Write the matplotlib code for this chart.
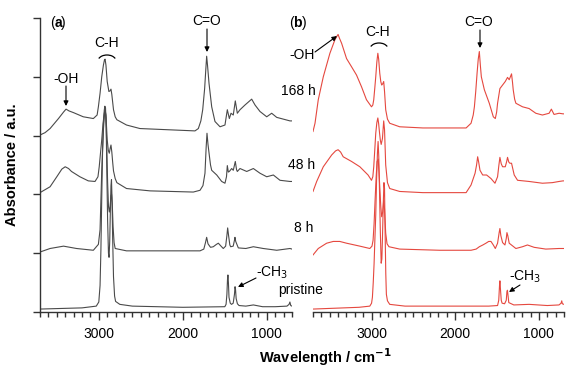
import matplotlib
matplotlib.use("Agg")
import matplotlib.pyplot as plt
from matplotlib.patches import Arc
from matplotlib.ticker import MultipleLocator
import numpy as np

plt.rcParams['font.family'] = ['Liberation Sans', 'DejaVu Sans']

# ---------------- data (wavenumber cm^-1, absorbance a.u. relative to own baseline) -------------
sample_labels = ["pristine", "8 h", "48 h", "168 h"]
offsets = [0.05, 1, 2, 3]

# panel (a)
a_pristine_wn = [3700, 3200, 3030, 3000, 2985, 2975, 2965, 2955, 2945, 2935, 2928, 2920, 2912, 2905, 2895, 2885, 2878, 2870, 2862, 2855, 2849, 2843, 2835, 2825, 2812, 2800, 2750, 2600, 2000, 1500, 1485, 1475, 1468, 1463, 1457, 1450, 1435, 1420, 1400, 1385, 1378, 1372, 1365, 1350, 1330, 1250, 1160, 1050, 900, 760, 735, 725, 715, 700]
a_pristine_ab = [0.0, 0.02, 0.05, 0.12, 0.4, 1.0, 1.9, 2.7, 3.15, 3.38, 3.45, 3.42, 3.1, 2.4, 1.5, 0.95, 0.88, 1.15, 1.7, 2.1, 2.2, 1.9, 1.2, 0.55, 0.22, 0.13, 0.08, 0.05, 0.03, 0.04, 0.08, 0.25, 0.5, 0.58, 0.45, 0.2, 0.1, 0.08, 0.1, 0.25, 0.38, 0.33, 0.18, 0.09, 0.06, 0.05, 0.07, 0.04, 0.04, 0.05, 0.08, 0.12, 0.06, 0.05]

a_8h_wn = [3700, 3580, 3420, 3265, 3065, 3005, 2985, 2975, 2965, 2955, 2945, 2935, 2925, 2915, 2905, 2895, 2885, 2875, 2865, 2855, 2848, 2840, 2830, 2818, 2805, 2670, 1795, 1750, 1730, 1716, 1700, 1670, 1637, 1600, 1577, 1545, 1518, 1490, 1475, 1466, 1455, 1440, 1430, 1400, 1385, 1379, 1370, 1339, 1250, 1160, 1042, 882, 724, 700]
a_8h_ab = [0.02, 0.08, 0.12, 0.08, 0.05, 0.15, 0.4, 0.9, 1.4, 1.76, 2.1, 2.32, 2.45, 2.3, 1.8, 1.2, 0.8, 0.7, 0.8, 0.98, 1.0, 0.85, 0.45, 0.18, 0.08, 0.04, 0.04, 0.07, 0.18, 0.27, 0.16, 0.1, 0.11, 0.15, 0.17, 0.12, 0.08, 0.12, 0.3, 0.43, 0.3, 0.14, 0.11, 0.12, 0.22, 0.27, 0.2, 0.09, 0.08, 0.11, 0.08, 0.05, 0.08, 0.07]

a_48h_wn = [3700, 3580, 3500, 3440, 3400, 3360, 3325, 3225, 3125, 3045, 3010, 2995, 2980, 2965, 2950, 2935, 2925, 2915, 2900, 2887, 2875, 2865, 2855, 2845, 2835, 2825, 2805, 2785, 2670, 2390, 1875, 1795, 1760, 1736, 1722, 1712, 1700, 1684, 1670, 1656, 1596, 1537, 1498, 1480, 1470, 1458, 1446, 1418, 1399, 1375, 1360, 1351, 1319, 1239, 1160, 1081, 1001, 922, 843, 724, 700]
a_48h_ab = [0.03, 0.13, 0.30, 0.43, 0.47, 0.44, 0.39, 0.30, 0.23, 0.22, 0.3, 0.47, 0.7, 0.93, 1.2, 1.38, 1.44, 1.35, 0.93, 0.75, 0.7, 0.78, 0.84, 0.72, 0.55, 0.4, 0.27, 0.2, 0.1, 0.06, 0.04, 0.07, 0.15, 0.36, 0.8, 1.04, 0.85, 0.66, 0.5, 0.41, 0.33, 0.22, 0.19, 0.3, 0.49, 0.38, 0.39, 0.44, 0.41, 0.56, 0.42, 0.39, 0.44, 0.39, 0.44, 0.36, 0.30, 0.33, 0.24, 0.22, 0.22]

a_168h_wn = [3700, 3640, 3580, 3480, 3420, 3390, 3355, 3300, 3185, 3065, 3020, 3005, 2985, 2965, 2945, 2932, 2925, 2915, 2900, 2880, 2867, 2855, 2845, 2825, 2805, 2785, 2670, 2510, 1855, 1815, 1785, 1763, 1740, 1725, 1716, 1706, 1688, 1656, 1617, 1557, 1498, 1470, 1446, 1426, 1399, 1375, 1351, 1319, 1260, 1180, 1140, 1081, 1001, 942, 882, 803, 724, 700]
a_168h_ab = [0.01, 0.05, 0.12, 0.29, 0.4, 0.45, 0.42, 0.39, 0.32, 0.29, 0.35, 0.49, 0.72, 1.00, 1.2, 1.29, 1.30, 1.2, 0.92, 0.75, 0.76, 0.79, 0.7, 0.44, 0.32, 0.27, 0.18, 0.12, 0.08, 0.12, 0.25, 0.44, 0.8, 1.15, 1.35, 1.2, 0.89, 0.49, 0.24, 0.15, 0.18, 0.44, 0.29, 0.38, 0.35, 0.59, 0.38, 0.44, 0.52, 0.62, 0.52, 0.41, 0.32, 0.38, 0.31, 0.28, 0.25, 0.25]

# panel (b)
b_pristine_wn = [3700, 3150, 3021, 3000, 2990, 2980, 2970, 2960, 2950, 2940, 2930, 2922, 2914, 2905, 2895, 2885, 2877, 2870, 2860, 2852, 2845, 2838, 2830, 2823, 2810, 2783, 2600, 1600, 1494, 1480, 1470, 1466, 1460, 1450, 1440, 1410, 1390, 1382, 1376, 1368, 1360, 1300, 1117, 900, 760, 735, 727, 720, 700]
b_pristine_ab = [0.0, 0.03, 0.05, 0.1, 0.20, 0.45, 0.77, 1.2, 1.6, 2.2, 2.65, 2.85, 2.6, 2.0, 1.3, 0.78, 0.85, 1.2, 1.8, 2.15, 2.05, 1.3, 0.6, 0.25, 0.14, 0.08, 0.05, 0.05, 0.06, 0.15, 0.42, 0.48, 0.35, 0.15, 0.1, 0.09, 0.15, 0.3, 0.32, 0.22, 0.11, 0.07, 0.08, 0.06, 0.07, 0.1, 0.14, 0.09, 0.08]

b_8h_wn = [3700, 3637, 3537, 3458, 3380, 3299, 3140, 3021, 2995, 2982, 2970, 2958, 2945, 2934, 2920, 2910, 2902, 2890, 2879, 2867, 2855, 2845, 2831, 2815, 2792, 2664, 2188, 1811, 1750, 1712, 1670, 1633, 1600, 1573, 1545, 1521, 1494, 1475, 1466, 1455, 1434, 1406, 1390, 1382, 1372, 1355, 1275, 1196, 1137, 1057, 918, 759, 712, 700]
b_8h_ab = [-0.03, 0.08, 0.17, 0.20, 0.20, 0.17, 0.12, 0.08, 0.12, 0.22, 0.5, 0.90, 1.3, 1.56, 1.60, 1.35, 1.13, 0.8, 0.62, 0.7, 0.90, 0.75, 0.34, 0.16, 0.11, 0.07, 0.05, 0.05, 0.07, 0.11, 0.14, 0.17, 0.2, 0.20, 0.14, 0.08, 0.17, 0.35, 0.42, 0.3, 0.18, 0.14, 0.25, 0.35, 0.3, 0.17, 0.08, 0.11, 0.14, 0.10, 0.07, 0.08, 0.08, 0.08]

b_48h_wn = [3700, 3656, 3577, 3477, 3430, 3400, 3370, 3339, 3239, 3140, 3042, 3001, 2985, 2974, 2962, 2950, 2937, 2925, 2915, 2905, 2895, 2885, 2870, 2855, 2845, 2831, 2810, 2783, 2664, 2387, 1870, 1811, 1763, 1745, 1732, 1720, 1704, 1672, 1625, 1573, 1525, 1494, 1478, 1466, 1450, 1434, 1402, 1385, 1375, 1360, 1347, 1327, 1295, 1255, 1117, 958, 839, 759, 712, 700]
b_48h_ab = [0.05, 0.22, 0.47, 0.67, 0.74, 0.76, 0.72, 0.64, 0.56, 0.47, 0.33, 0.24, 0.3, 0.47, 0.75, 1.04, 1.22, 1.30, 1.2, 1.05, 0.92, 0.85, 0.95, 1.25, 1.1, 0.5, 0.2, 0.10, 0.05, 0.03, 0.03, 0.16, 0.36, 0.5, 0.64, 0.55, 0.41, 0.33, 0.33, 0.27, 0.19, 0.30, 0.5, 0.63, 0.52, 0.47, 0.47, 0.56, 0.63, 0.55, 0.53, 0.53, 0.33, 0.24, 0.22, 0.19, 0.20, 0.22, 0.23, 0.23]

b_168h_wn = [3700, 3676, 3637, 3577, 3498, 3438, 3410, 3400, 3385, 3358, 3299, 3239, 3180, 3120, 3061, 3001, 2985, 2974, 2962, 2950, 2937, 2925, 2915, 2902, 2890, 2879, 2867, 2855, 2845, 2831, 2810, 2783, 2664, 2387, 1870, 1811, 1785, 1771, 1755, 1739, 1725, 1712, 1700, 1688, 1652, 1593, 1545, 1521, 1505, 1494, 1466, 1434, 1402, 1375, 1355, 1327, 1315, 1307, 1290, 1275, 1196, 1117, 1037, 958, 878, 851, 819, 759, 712, 700]
b_168h_ab = [0.07, 0.21, 0.61, 1.00, 1.40, 1.63, 1.70, 1.72, 1.66, 1.57, 1.31, 1.17, 1.03, 0.83, 0.61, 0.49, 0.52, 0.61, 0.8, 1.00, 1.25, 1.40, 1.3, 1.06, 0.92, 0.86, 0.88, 0.92, 0.75, 0.44, 0.28, 0.21, 0.15, 0.13, 0.13, 0.21, 0.35, 0.49, 0.75, 1.06, 1.3, 1.43, 1.2, 1.00, 0.78, 0.55, 0.32, 0.29, 0.4, 0.55, 0.80, 0.86, 0.92, 0.99, 0.95, 1.05, 0.9, 0.78, 0.62, 0.55, 0.49, 0.46, 0.38, 0.35, 0.38, 0.45, 0.36, 0.38, 0.37, 0.37]

x_ticks = [3000, 2000, 1000]
x_tick_labels = ["3000", "2000", "1000"]

# ---------------- figure ----------------
W, H = 573, 368
fig = plt.figure(figsize=(W / 100, H / 100), dpi=100)

def fx(px):
    return px / W

def fy(py):
    return 1 - py / H

ax_a = fig.add_axes([fx(40), fy(312), fx(292) - fx(40), fy(18) - fy(312)])
ax_b = fig.add_axes([fx(313), fy(312), fx(564) - fx(313), fy(18) - fy(312)])

gray = "#4a4a4a"
red = "#e5483f"
axcol = "#333333"

series_a = [(a_pristine_wn, a_pristine_ab), (a_8h_wn, a_8h_ab), (a_48h_wn, a_48h_ab), (a_168h_wn, a_168h_ab)]
series_b = [(b_pristine_wn, b_pristine_ab), (b_8h_wn, b_8h_ab), (b_48h_wn, b_48h_ab), (b_168h_wn, b_168h_ab)]

for (wn, ab), off in zip(series_a, offsets):
    ax_a.plot(wn, np.array(ab) + off, color=gray, lw=0.8, solid_joinstyle='round')
for (wn, ab), off in zip(series_b, offsets):
    ax_b.plot(wn, np.array(ab) + off, color=red, lw=0.8, solid_joinstyle='round')

for ax in (ax_a, ax_b):
    ax.set_xlim(3700, 700)
    ax.set_ylim(0, 5)
    ax.set_xticks(x_ticks)
    ax.set_xticklabels(x_tick_labels, fontsize=10)
    ax.xaxis.set_minor_locator(MultipleLocator(100))
    ax.tick_params(axis='x', which='major', direction='out', length=6, width=1, color=axcol, pad=5)
    ax.tick_params(axis='x', which='minor', direction='out', length=3.5, width=1, color=axcol)
    ax.spines['top'].set_visible(False)
    ax.spines['right'].set_visible(False)
    ax.spines['bottom'].set_color(axcol)
    ax.patch.set_alpha(0)
    for s in ax.spines.values():
        s.set_linewidth(1.0)

ax_a.spines['left'].set_color(axcol)
ax_a.set_yticks([0, 1, 2, 3, 4, 5])
ax_a.set_yticklabels([])
ax_a.tick_params(axis='y', direction='out', length=5, width=1, color=axcol)
ax_b.spines['left'].set_visible(False)
ax_b.set_yticks([])

# axis labels
fig.text(fx(12), fy(165), "Absorbance / a.u.", rotation=90, ha='center', va='center',
         fontsize=10.5, fontweight='bold')
fig.text(fx(325), fy(357), "Wavelength / cm$^{\\mathbf{-1}}$", ha='center', va='center',
         fontsize=10.5, fontweight='bold')

fs = 10
# panel labels
fig.text(fx(50), fy(23), "(", ha='left', va='center', fontsize=fs)
fig.text(fx(58), fy(23), "a", ha='center', va='center', fontsize=fs, fontweight='bold')
fig.text(fx(66), fy(23), ")", ha='right', va='center', fontsize=fs)
fig.text(fx(289), fy(23), "(", ha='left', va='center', fontsize=fs)
fig.text(fx(297.5), fy(23), "b", ha='center', va='center', fontsize=fs, fontweight='bold')
fig.text(fx(307), fy(23), ")", ha='right', va='center', fontsize=fs)

# sample labels between panels
for lab, (px, py) in zip(sample_labels, [(301, 290), (304, 228), (302, 165), (298, 91)]):
    fig.text(fx(px), fy(py), lab, ha='center', va='center', fontsize=fs)

arrow = dict(arrowstyle='-|>', color='black', lw=0.8, mutation_scale=7, shrinkA=0, shrinkB=0)

def fp(px, py):
    return (px, H - py)

# panel a annotations
fig.text(fx(207), fy(21), "C=O", ha='center', va='center', fontsize=fs)
ax_a.annotate("", xy=fp(207, 52), xytext=fp(207, 29), xycoords='figure pixels',
              textcoords='figure pixels', arrowprops=arrow)
fig.text(fx(107), fy(43), "C-H", ha='center', va='center', fontsize=fs)
fig.text(fx(66), fy(79), "-OH", ha='center', va='center', fontsize=fs)
ax_a.annotate("", xy=fp(66, 106), xytext=fp(66, 86), xycoords='figure pixels',
              textcoords='figure pixels', arrowprops=arrow)
fig.text(fx(272), fy(273), "-CH$_3$", ha='center', va='center', fontsize=fs)
ax_a.annotate("", xy=fp(238, 287), xytext=fp(256, 278), xycoords='figure pixels',
              textcoords='figure pixels', arrowprops=arrow)

# panel b annotations
fig.text(fx(479), fy(22), "C=O", ha='center', va='center', fontsize=fs)
ax_b.annotate("", xy=fp(480, 48), xytext=fp(480, 30), xycoords='figure pixels',
              textcoords='figure pixels', arrowprops=arrow)
fig.text(fx(378), fy(32), "C-H", ha='center', va='center', fontsize=fs)
fig.text(fx(302), fy(55), "-OH", ha='center', va='center', fontsize=fs)
ax_b.annotate("", xy=fp(337, 36), xytext=fp(315, 52), xycoords='figure pixels',
              textcoords='figure pixels', arrowprops=arrow)
fig.text(fx(525), fy(277), "-CH$_3$", ha='center', va='center', fontsize=fs)
ax_b.annotate("", xy=fp(509, 292), xytext=fp(520, 285), xycoords='figure pixels',
              textcoords='figure pixels', arrowprops=arrow)

# C-H brackets
for cx, cy in [(107, 61), (379, 49)]:
    arc = Arc((fx(cx), fy(cy)), fx(18), 12 / H, theta1=25, theta2=155,
              transform=fig.transFigure, color='black', lw=0.9)
    fig.add_artist(arc)

fig.savefig("out.png", dpi=100)
